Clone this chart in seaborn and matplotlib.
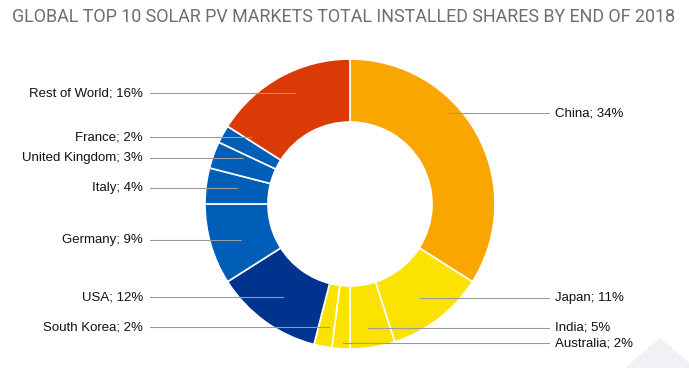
import matplotlib.pyplot as plt
import numpy as np
import seaborn as sns
from matplotlib.patches import Polygon

# Data
countries = ["China", "Japan", "India", "Australia", "South Korea", "USA",
             "Germany", "Italy", "United Kingdom", "France", "Rest of World"]
shares = [34, 11, 5, 2, 2, 12, 9, 4, 3, 2, 16]
colors = ["#F9A600", "#FBE200", "#FBE200", "#FBE200", "#FBE200", "#00338D",
          "#005EB8", "#005EB8", "#005EB8", "#005EB8", "#D93A06"]

# Layout of the labels (pixel row from top, and side)
label_y = [113, 298, 328, 343, 327, 297, 240, 188, 158, 137, 93]
label_side = ["right", "right", "right", "right", "left", "left",
              "left", "left", "left", "left", "left"]

W, H = 689, 368
sns.set_theme(style="white")
plt.rcParams["font.family"] = ["Liberation Sans", "DejaVu Sans"]

fig = plt.figure(figsize=(W / 100, H / 100), dpi=100)
ax = fig.add_axes([0, 0, 1, 1])
ax.set_xlim(0, W)
ax.set_ylim(0, H)
ax.set_aspect("equal")
ax.axis("off")

# Donut
cx, cy, r_out, ring = 350, H - 204, 145, 63
wedges, _ = ax.pie(shares, colors=colors, startangle=90, counterclock=False,
                   center=(cx, cy), radius=r_out,
                   wedgeprops=dict(width=ring, edgecolor="white", linewidth=1.2))
ax.set_xlim(0, W)
ax.set_ylim(0, H)

# Labels with leader lines
r_mid = r_out - ring / 2
for w, name, val, ly, side in zip(wedges, countries, shares, label_y, label_side):
    ang = np.deg2rad((w.theta1 + w.theta2) / 2)
    end_x = cx + r_mid * np.cos(ang)
    y = H - ly
    if side == "left":
        ax.plot([150, end_x], [y, y], color="#9a9a9a", lw=0.8)
        ax.text(143, y, f"{name}; {val}%", ha="right", va="center",
                fontsize=9.5, color="#111111")
    else:
        ax.plot([end_x, 549], [y, y], color="#9a9a9a", lw=0.8)
        ax.text(555, y, f"{name}; {val}%", ha="left", va="center",
                fontsize=9.5, color="#111111")

# Title
fig.text(0.017, 0.953, "GLOBAL TOP 10 SOLAR PV MARKETS TOTAL INSTALLED SHARES BY END OF 2018",
         ha="left", va="center", fontsize=12.85, color="#6e6e6e",
         family=["Roboto", "DejaVu Sans"])

# Faint corner watermark
fig.patches.append(Polygon([[625 / W, 0], [660 / W, 30 / H], [695 / W, 0]],
                           closed=True, transform=fig.transFigure,
                           facecolor="#f0f0f5", edgecolor="none", zorder=0))

fig.savefig("out.png", dpi=100, facecolor="white")
